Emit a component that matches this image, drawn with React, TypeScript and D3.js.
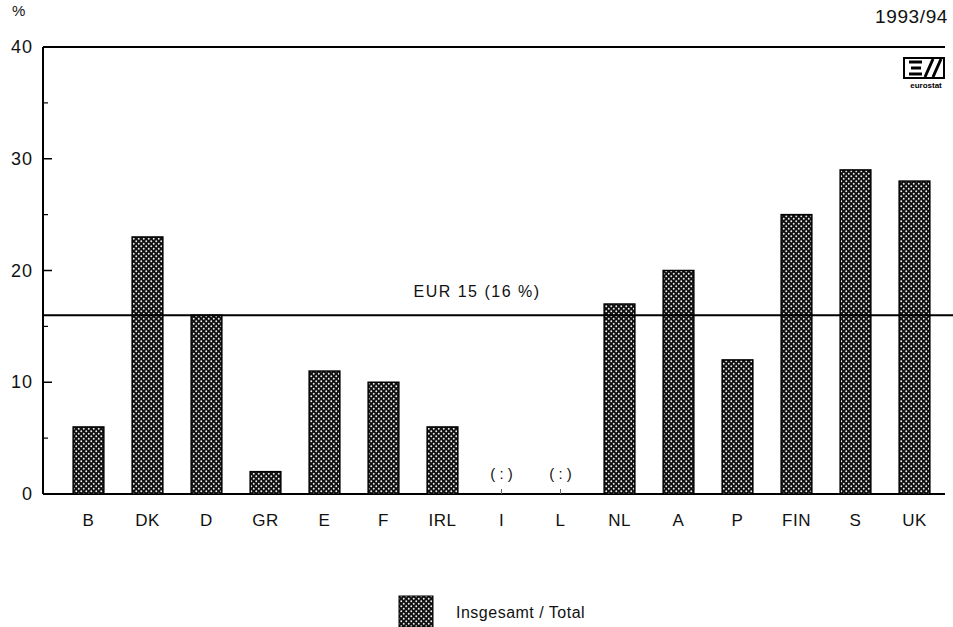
import React from "react";
import * as d3 from "d3";

const categories = ["B", "DK", "D", "GR", "E", "F", "IRL", "I", "L", "NL", "A", "P", "FIN", "S", "UK"];
const values: (number | null)[] = [6, 23, 16, 2, 11, 10, 6, null, null, 17, 20, 12, 25, 29, 28];
const majorTicks = [0, 10, 20, 30, 40];
const minorTicks = [5, 15, 25, 35];
const eurValue = 16;
const eurLabel = "EUR 15 (16 %)";
const periodLabel = "1993/94";
const legendLabel = "Insgesamt / Total";
const missingLabel = "( : )";

const W = 953;
const H = 627;
const left = 43;
const right = 945;
const top = 47;
const bottom = 494;
const font = "'Liberation Sans', Arial, sans-serif";

export default function App() {
  const x = d3.scaleBand<string>().domain(categories).range([59, 944]).paddingInner(0.48).paddingOuter(0.24);
  const y = d3.scaleLinear().domain([0, 40]).range([bottom, top]);
  const bw = x.bandwidth();
  return (
    <svg width={W} height={H} style={{ position: "absolute", left: 0, top: 0, background: "#fff" }}>
      <defs>
        <pattern id="dots" width="5" height="5" patternUnits="userSpaceOnUse">
          <rect width="5" height="5" fill="#111" />
          <circle cx="1.25" cy="1.25" r="0.95" fill="#eee" />
          <circle cx="3.75" cy="3.75" r="0.95" fill="#eee" />
        </pattern>
      </defs>
      <rect width={W} height={H} fill="#fff" />
      <text x={12} y={16} fontFamily={font} fontSize={15} fill="#111">%</text>
      <text x={948} y={23} textAnchor="end" fontFamily={font} fontSize={19} letterSpacing={0.6} fill="#111">{periodLabel}</text>
      {/* frame */}
      <line x1={left} x2={right} y1={top} y2={top} stroke="#000" strokeWidth={2} />
      <line x1={left} x2={left} y1={top} y2={bottom} stroke="#000" strokeWidth={2} />
      <line x1={left} x2={right} y1={bottom} y2={bottom} stroke="#000" strokeWidth={2} />
      {majorTicks.map((t) => (
        <g key={t}>
          <line x1={left} x2={left + 9} y1={y(t)} y2={y(t)} stroke="#000" strokeWidth={1.5} />
          <text x={33} y={y(t) + 6} textAnchor="end" fontFamily={font} fontSize={18} letterSpacing={1} fill="#111">{t}</text>
        </g>
      ))}
      {minorTicks.map((t) => (
        <line key={t} x1={left} x2={left + 5} y1={y(t)} y2={y(t)} stroke="#000" strokeWidth={1.2} />
      ))}
      {categories.map((c, i) => {
        const v = values[i];
        const cx = (x(c) as number) + bw / 2;
        return (
          <g key={c}>
            {v !== null ? (
              <rect x={x(c)} y={y(v)} width={bw} height={bottom - y(v)} fill="url(#dots)" stroke="#000" strokeWidth={1.5} />
            ) : (
              <g>
                <text x={cx} y={479} textAnchor="middle" fontFamily={font} fontSize={15} fill="#111">{missingLabel}</text>
                <line x1={cx} x2={cx} y1={bottom - 5} y2={bottom} stroke="#666" strokeWidth={1} />
              </g>
            )}
            <text x={cx} y={526} textAnchor="middle" fontFamily={font} fontSize={17} letterSpacing={0.5} fill="#111">{c}</text>
          </g>
        );
      })}
      <line x1={left} x2={W} y1={y(eurValue)} y2={y(eurValue)} stroke="#000" strokeWidth={2} />
      <text x={477} y={297} textAnchor="middle" fontFamily={font} fontSize={16} letterSpacing={1.5} fill="#111">{eurLabel}</text>
      {/* eurostat logo */}
      <g>
        <rect x={904} y={58} width={40} height={20} fill="none" stroke="#000" strokeWidth={2} />
        <path d="M909 62 H922 M911 68 H921 M909 74 H922" stroke="#000" strokeWidth={3} fill="none" />
        <path d="M925 77 L933 59 M933 77 L941 59" stroke="#000" strokeWidth={3} />
        <text x={926} y={88} textAnchor="middle" fontFamily={font} fontSize={8} fontWeight="bold" fill="#000">eurostat</text>
      </g>
      {/* legend */}
      <rect x={399} y={596} width={34} height={31} fill="url(#dots)" stroke="#000" strokeWidth={1} />
      <text x={456} y={618} fontFamily={font} fontSize={16} letterSpacing={0.5} fill="#111">{legendLabel}</text>
    </svg>
  );
}
